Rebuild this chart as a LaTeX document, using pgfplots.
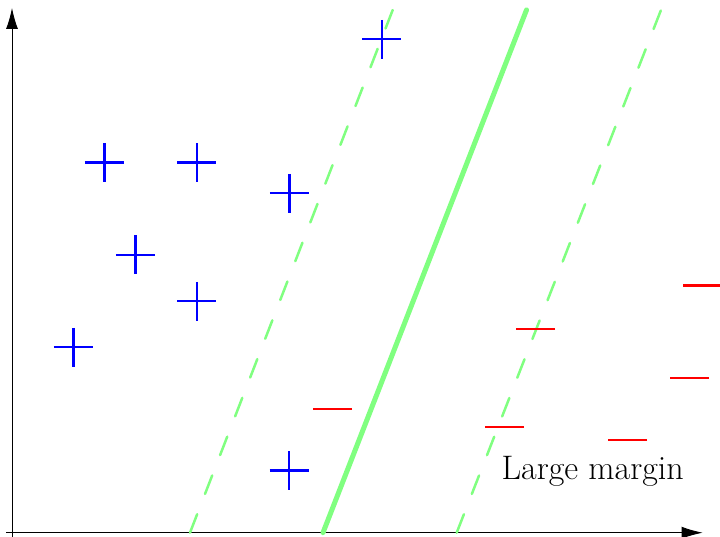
\documentclass[border=0pt]{standalone}
\usepackage{pgfplots}
\pgfplotsset{compat=1.18}
\usetikzlibrary{arrows.meta}
\definecolor{mgreen}{rgb}{0.5,1,0.5}
\begin{document}
\begin{tikzpicture}
\begin{axis}[
  scale only axis, width=720pt, height=537pt,
  xmin=0, xmax=720, ymin=0, ymax=537,
  hide axis, clip marker paths=true,
]
\path (axis cs:0,0) rectangle (axis cs:720,537);
% axes
\addplot[black, line width=0.9pt, -{Latex[length=21pt,width=12pt]}] coordinates {(12,0) (12,529)};
\addplot[black, line width=0.9pt, -{Latex[length=21pt,width=12pt]}] coordinates {(6,4.3) (702.7,4.3)};
% separating lines
\addplot[mgreen, line width=2.5pt, line cap=round, dash pattern=on 19.8pt off 21.8pt] coordinates {(190,4.3) (392.7,527)};
\addplot[mgreen, line width=2.5pt, line cap=round, dash pattern=on 19.8pt off 21.8pt] coordinates {(456.7,4.3) (661,527)};
\addplot[mgreen, line width=5pt, line cap=round] coordinates {(323,4.3) (526.5,527)};
% positive class
\addplot[only marks, mark=+, mark size=19.5pt, blue, mark options={line width=2.4pt}] coordinates {
(381.7,497.7) (104.3,374.3) (196.7,374.3) (289.3,343.7) (135.3,282) (196.7,235.7) (73.3,189.7) (289,66.3)};
% negative class
\addplot[only marks, mark=-, mark size=19.5pt, red, mark options={line width=2.4pt}] coordinates {
(332.5,127.7) (535.5,208) (504.5,109.7) (627.5,97) (689.5,158.7) (702,251.3)};
\node[anchor=base, font=\fontsize{34}{40}\selectfont] at (axis cs:592.7,57) {Large margin};
\end{axis}
\end{tikzpicture}
\end{document}
